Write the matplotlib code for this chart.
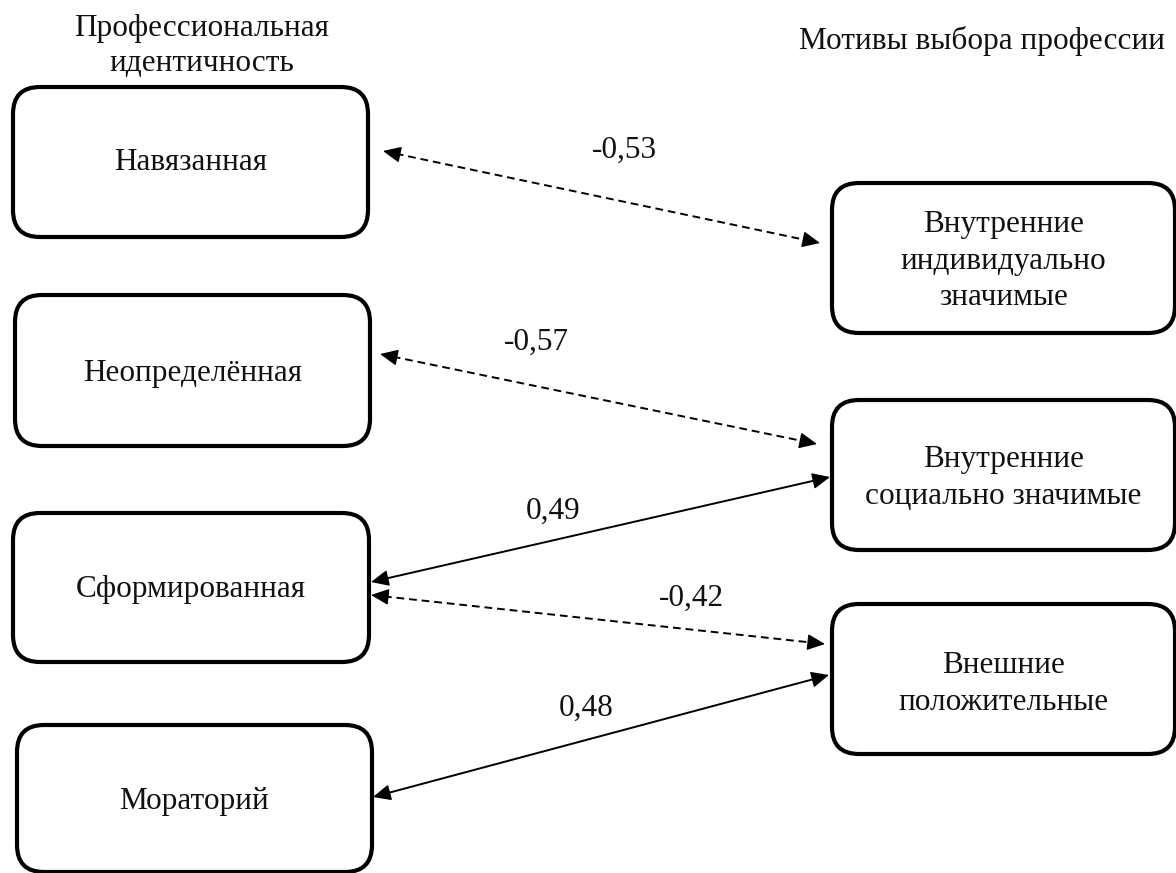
import matplotlib
matplotlib.use("Agg")
import matplotlib.pyplot as plt
import numpy as np
from matplotlib.patches import FancyBboxPatch, FancyArrowPatch

plt.rcParams['font.family'] = ['Liberation Serif', 'DejaVu Serif']

# ---- data ----
left_title = "Профессиональная\nидентичность"
right_title = "Мотивы выбора профессии"
left_labels = ["Навязанная", "Неопределённая", "Сформированная", "Мораторий"]
right_labels = ["Внутренние\nиндивидуально\nзначимые",
                "Внутренние\nсоциально значимые",
                "Внешние\nположительные"]
link_src = [0, 1, 2, 2, 3]          # index into left_labels
link_dst = [0, 1, 1, 2, 2]          # index into right_labels
link_r = [-0.53, -0.57, 0.49, -0.42, 0.48]

# ---- layout (pixel coordinates, y downwards) ----
W, H = 1176, 873
left_boxes = [(13, 87, 368, 237), (15, 295, 370, 446),
              (13, 513, 369, 662), (17, 725, 372, 872)]
right_boxes = [(832, 183, 1175, 333), (832, 400, 1175, 550),
               (832, 604, 1175, 754)]
left_text_y = [163, 373, 590, 802]
right_text_y = [261, 478, 684]
link_left_y = [151, 354, 582, 595, 797]
link_right_y = [243, 444, 477, 644, 675]
link_left_x = [383, 380, 371, 371, 373]
link_right_x = [820, 817, 830, 825, 829]
label_xy = [(624, 150), (536, 342), (553, 511), (691, 598), (586, 708)]

FS = 22.5
HEAD_PX = 15.0

fig = plt.figure(figsize=(W / 100, H / 100), dpi=100)
ax = fig.add_axes([0, 0, 1, 1])
ax.set_xlim(0, W)
ax.set_ylim(H, 0)
ax.axis('off')

def draw_box(b, text, ty):
    x0, y0, x1, y1 = b
    p = FancyBboxPatch((x0, y0), x1 - x0, y1 - y0,
                       boxstyle="round,pad=0,rounding_size=27",
                       linewidth=3.0, edgecolor='black', facecolor='white')
    ax.add_patch(p)
    ax.text((x0 + x1) / 2, ty, text, ha='center', va='center',
            fontsize=FS, linespacing=1.32, color='#111111')

for b, t, ty in zip(left_boxes, left_labels, left_text_y):
    draw_box(b, t, ty)
for b, t, ty in zip(right_boxes, right_labels, right_text_y):
    draw_box(b, t, ty)

ax.text(202, 46, left_title, ha='center', va='center', fontsize=FS,
        linespacing=1.3, color='#111111')
ax.text(982, 41, right_title, ha='center', va='center', fontsize=FS,
        color='#111111')

def head(tip, u):
    start = tip - u * HEAD_PX
    a = FancyArrowPatch(tuple(start), tuple(tip),
                        arrowstyle='-|>,head_length=1.1,head_width=0.5',
                        mutation_scale=10, linewidth=1.0, linestyle='-',
                        color='black', shrinkA=0, shrinkB=0)
    ax.add_patch(a)

for i in range(len(link_r)):
    r = link_r[i]
    p0 = np.array([link_left_x[i], link_left_y[i]], float)
    p1 = np.array([link_right_x[i], link_right_y[i]], float)
    u = (p1 - p0) / np.linalg.norm(p1 - p0)
    a0 = p0 + u * (HEAD_PX - 2)
    a1 = p1 - u * (HEAD_PX - 2)
    if r < 0:
        ax.plot([a0[0], a1[0]], [a0[1], a1[1]], color='black', lw=1.4,
                dashes=(4, 2.5), solid_capstyle='butt', dash_capstyle='butt')
    else:
        ax.plot([a0[0], a1[0]], [a0[1], a1[1]], color='black', lw=1.4)
    head(p0, -u)
    head(p1, u)
    ax.text(label_xy[i][0], label_xy[i][1],
            ("%.2f" % r).replace('.', ','), ha='center', va='center',
            fontsize=FS, color='#111111')

fig.savefig('out.png', dpi=100)
